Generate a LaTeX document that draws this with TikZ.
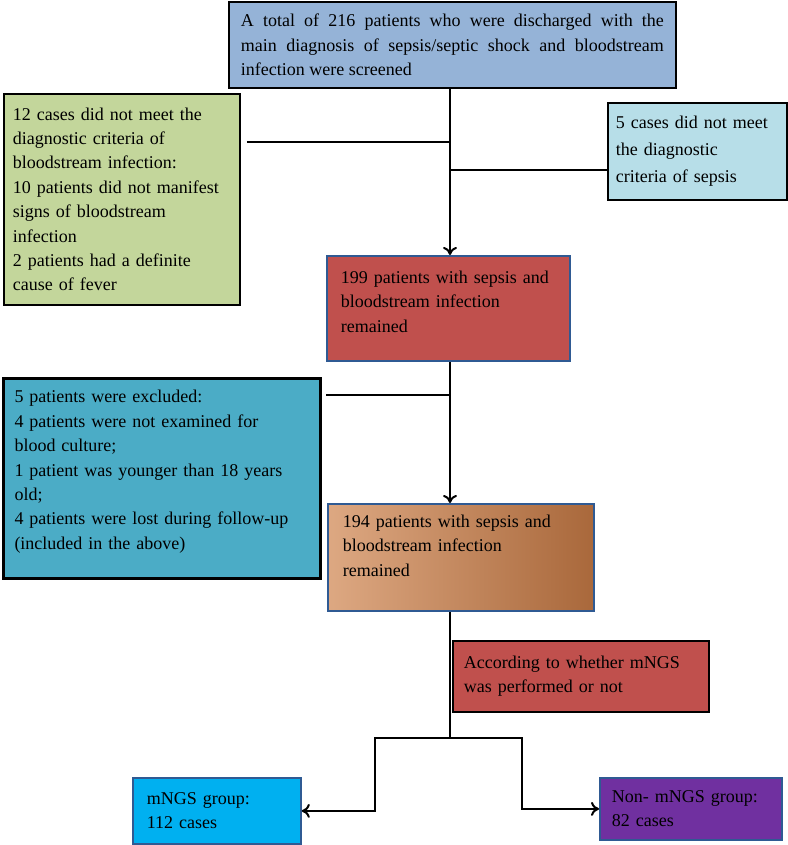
\documentclass[tikz,border=0pt]{standalone}
\usepackage{fontspec}
\setmainfont{Liberation Serif}
\usetikzlibrary{arrows.meta}

\definecolor{screenblue}{HTML}{95B3D7}
\definecolor{critgreen}{HTML}{C3D69B}
\definecolor{sepsisblue}{HTML}{B7DEE8}
\definecolor{remainred}{HTML}{C0504D}
\definecolor{excludeteal}{HTML}{4BACC6}
\definecolor{tanlight}{HTML}{DDA882}
\definecolor{tandark}{HTML}{A9683B}
\definecolor{mngsblue}{HTML}{00B0F0}
\definecolor{nonpurple}{HTML}{7030A0}
\definecolor{edgeblue}{HTML}{2F5A93}

\begin{document}
\begin{tikzpicture}[x=0.5pt,y=-0.5pt,
  box/.style={draw,rectangle,anchor=north west,align=left,line width=0.9pt,
    font=\fontsize{9}{12.2}\selectfont,inner ysep=0pt},
  line/.style={line width=1pt},
  >={To[length=4pt,width=7pt]}]
  \useasboundingbox (0,0) rectangle (787,845);

  \node[box,fill=screenblue,align=justify,text width=211.5pt,inner xsep=6pt,
    minimum height=43pt] (Screened) at (228,1)
    {A total of 216 patients who were discharged with the\linebreak
     main diagnosis of sepsis/septic shock and bloodstream\linebreak
     infection were screened};
  \node[box,fill=critgreen,text width=109pt,inner xsep=4.5pt,
    minimum height=105.5pt] (NoBSI) at (3,93)
    {12 cases did not meet the\\diagnostic criteria of\\bloodstream infection:\\
     10 patients did not manifest\\signs of bloodstream\\infection\\
     2 patients had a definite\\cause of fever};
  \node[box,fill=sepsisblue,text width=81.5pt,inner xsep=4pt,
    font=\fontsize{9}{13.5}\selectfont,minimum height=48.5pt] (NoSepsis) at (607,102)
    {5 cases did not meet\\the diagnostic\\criteria of sepsis};
  \node[box,fill=remainred,draw=edgeblue,text width=107.5pt,inner xsep=7pt,
    inner ysep=7.5pt,text depth=31.5pt] (Remain199) at (326,255)
    {199 patients with sepsis and\\bloodstream infection\\remained};
  \node[box,fill=excludeteal,line width=1.5pt,text width=147.5pt,inner xsep=5.5pt,
    inner ysep=6pt,text depth=82pt] (Excluded) at (2,377)
    {5 patients were excluded:\\4 patients were not examined for\\blood culture;\\
     1 patient was younger than 18 years\\old;\\
     4 patients were lost during follow-up\\(included in the above)};
  \node[box,left color=tanlight,right color=tandark,draw=edgeblue,text width=118pt,
    inner xsep=7.5pt,inner ysep=5.5pt,text depth=36.5pt] (Remain194) at (327,503)
    {194 patients with sepsis and\\bloodstream infection\\remained};
  \node[box,fill=remainred,text width=117pt,inner xsep=5.5pt,
    minimum height=35.5pt] (Grouping) at (452,640)
    {According to whether mNGS\\was performed or not};
  \node[box,fill=mngsblue,draw=edgeblue,text width=70pt,inner xsep=7pt,
    minimum height=33pt] (MNGS) at (132,777)
    {mNGS group:\\112 cases};
  \node[box,fill=nonpurple,draw=edgeblue,text width=79pt,inner xsep=6pt,
    minimum height=31pt] (NonMNGS) at (599,777)
    {Non- mNGS group:\\82 cases};

  % junctions on the main stem
  \coordinate (J1) at (450,142);
  \coordinate (J2) at (450,170);
  \coordinate (J3) at (450,395);
  \coordinate (Fork) at (450,738);
  \coordinate (ForkL) at (375,738);
  \coordinate (ForkR) at (522,738);

  \draw[line,->] (Screened.south -| J1) -- (Remain199.north -| J1);
  \draw[line,shorten <=3pt] (NoBSI.east |- J1) -- (J1);
  \draw[line] (J2) -- (NoSepsis.west |- J2);
  \draw[line,->] (Remain199.south -| J3) -- (Remain194.north -| J3);
  \draw[line,shorten <=2pt] (Excluded.east |- J3) -- (J3);
  \draw[line] (Remain194.south -| Fork) -- (Fork);
  \draw[line,->] (Fork) -- (ForkL) |- (MNGS.east);
  \draw[line,->] (Fork) -- (ForkR) |- (NonMNGS.west);
\end{tikzpicture}
\end{document}
